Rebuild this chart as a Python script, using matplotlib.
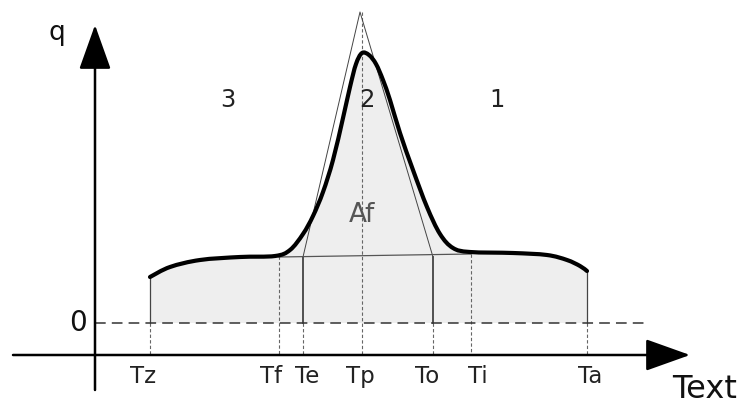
import numpy as np
import matplotlib
matplotlib.use("Agg")
import matplotlib.pyplot as plt
from matplotlib.path import Path
from matplotlib.patches import PathPatch

# curve: x position and pixel height, turned into q above the zero line
curve_x = [150, 170, 200, 240, 275, 290, 303, 313, 323, 333, 343, 350, 356,
           362, 369, 376, 383, 390, 400, 413, 427, 440, 453, 470, 513, 547,
           567, 580, 587]
curve_y = [277, 267, 260, 257, 256, 250, 234, 216, 192, 160, 118, 87, 64,
           53, 55, 64, 80, 100, 133, 170, 207, 234, 248, 252, 253, 255,
           260, 266, 271]
ZERO_PX = 323
curve_q = [ZERO_PX - v for v in curve_y]

# temperature marks on the Text axis
tick_names = ["Tz", "Tf", "Te", "Tp", "To", "Ti", "Ta"]
tick_x = [150, 279, 303, 362, 433, 471, 587]
label_x = [143, 271, 307, 360, 427, 478, 590]
# height where each guide starts (q)
tick_top = [46, 67, 66, 311, 66, 69, 52]
tick_solid = [True, False, True, False, True, False, True]

# triangle used for the peak area Af
tri_x = [303, 360, 433]
tri_q = [66, 311, 66]
base_x = [279, 471]
base_q = [66, 69]

region_names = ["3", "2", "1"]
region_x = [228, 367, 497]

AXIS_Q = ZERO_PX - 355


def smooth_path(xs, ys):
    # Catmull-Rom through the read points, drawn as cubic Bezier segments
    p = np.column_stack([xs, ys]).astype(float)
    verts = [p[0]]
    codes = [Path.MOVETO]
    n = len(p)
    for i in range(n - 1):
        p0 = p[i - 1] if i > 0 else p[i]
        p3 = p[i + 2] if i + 2 < n else p[i + 1]
        c1 = p[i] + (p[i + 1] - p0) / 6
        c2 = p[i + 1] - (p3 - p[i]) / 6
        verts += [c1, c2, p[i + 1]]
        codes += [Path.CURVE4] * 3
    return verts, codes


fig = plt.figure(figsize=(7.42, 4.12), dpi=100)
ax = fig.add_axes([0, 0, 1, 1])
ax.set_xlim(0, 742)
ax.set_ylim(ZERO_PX - 412, ZERO_PX)
ax.axis("off")

verts, codes = smooth_path(curve_x, curve_q)

# fill under the curve down to the zero level
fill_verts = verts + [(curve_x[-1], 0), (curve_x[0], 0), verts[0]]
fill_codes = codes + [Path.LINETO, Path.LINETO, Path.CLOSEPOLY]
ax.add_patch(PathPatch(Path(fill_verts, fill_codes), facecolor="#eeeeee",
                       edgecolor="none", zorder=1))

# guide lines
for x, top, solid in zip(tick_x, tick_top, tick_solid):
    if solid:
        ax.plot([x, x], [top, 0], color="#444444", lw=1.3 if x not in (150, 587) else 0.9, zorder=2)
        ax.plot([x, x], [0, AXIS_Q], color="#666666", lw=0.8, ls=(0, (3, 2)), zorder=2)
    else:
        ax.plot([x, x], [top, AXIS_Q], color="#666666", lw=0.8, ls=(0, (3, 2)), zorder=2)

ax.plot(tri_x, tri_q, color="#444444", lw=0.7, zorder=2)
ax.plot(base_x, base_q, color="#555555", lw=0.9, zorder=2)

# zero level
ax.plot([95, 645], [0, 0], color="#333333", lw=1.1, ls=(0, (7, 4)), zorder=2)

ax.add_patch(PathPatch(Path(verts, codes), facecolor="none", edgecolor="black",
                       lw=3, capstyle="round", joinstyle="round", zorder=3))

# axes with arrows
ax.annotate("", xy=(95, ZERO_PX - 25), xytext=(95, ZERO_PX - 390),
            arrowprops=dict(arrowstyle="-|>,head_length=1.4,head_width=0.5",
                            color="black", lw=1.8, mutation_scale=20,
                            shrinkA=0, shrinkB=0))
ax.annotate("", xy=(690, AXIS_Q), xytext=(13, AXIS_Q),
            arrowprops=dict(arrowstyle="-|>,head_length=1.4,head_width=0.5",
                            color="black", lw=1.8, mutation_scale=20,
                            shrinkA=0, shrinkB=0))

for name, x in zip(tick_names, label_x):
    ax.text(x, AXIS_Q - 10, name, ha="center", va="top", fontsize=16.5, color="#222222")

for name, x in zip(region_names, region_x):
    ax.text(x, ZERO_PX - 100, name, ha="center", va="center", fontsize=17.5, color="#222222")

ax.text(362, ZERO_PX - 215, "Af", ha="center", va="center", fontsize=19, color="#555555")
ax.text(57, ZERO_PX - 33, "q", ha="center", va="center", fontsize=19, color="#111111")
ax.text(78, 0, "0", ha="center", va="center", fontsize=20, color="#111111")
ax.text(705, ZERO_PX - 390, "Text", ha="center", va="center", fontsize=23, color="#111111")

fig.savefig("out.png", dpi=100)
